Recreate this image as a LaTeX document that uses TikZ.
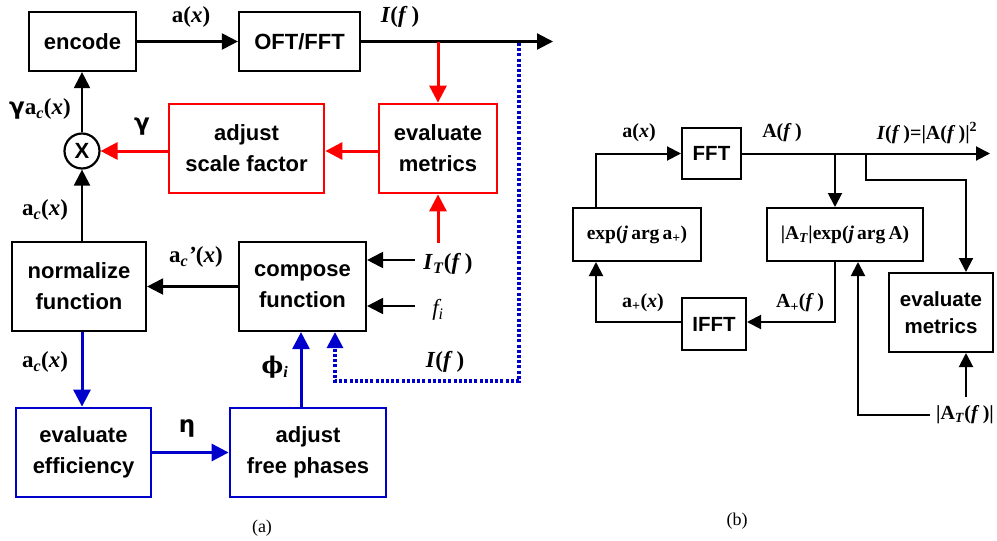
\documentclass[tikz,border=0pt]{standalone}
\usepackage{fontspec}
\setmainfont{Liberation Serif}
\setsansfont{Liberation Sans}
\newfontfamily\grs{DejaVu Sans}
\newfontfamily\grserif{DejaVu Serif}
\usetikzlibrary{arrows.meta}
\definecolor{myred}{RGB}{255,0,0}
\definecolor{myblue}{RGB}{0,0,204}
\newcommand{\bit}[1]{\textit{#1}}
\tikzset{
  blk/.style={draw, line width=2.2pt, inner sep=0pt, align=center,
    font=\fontsize{22}{31}\selectfont\sffamily\bfseries},
  redbox/.style={blk, draw=myred, line width=2.8pt},
  bluebox/.style={blk, draw=myblue, line width=2.8pt},
  blkb/.style={draw, line width=2pt, inner sep=0pt, align=center,
    font=\fontsize{20.5}{27}\selectfont\sffamily\bfseries},
  serbox/.style={draw, line width=2pt, inner sep=0pt, align=center,
    font=\fontsize{19.5}{22}\selectfont\bfseries},
  lab/.style={inner sep=0pt, font=\fontsize{23}{26}\selectfont\bfseries},
  labb/.style={inner sep=0pt, font=\fontsize{20}{23}\selectfont\bfseries},
  con/.style={line width=2.2pt, -{Triangle[length=16pt,width=16pt]}},
  redcon/.style={line width=3pt, draw=myred, -{Triangle[length=17pt,width=17pt]}, myred},
  bluecon/.style={line width=3pt, draw=myblue, -{Triangle[length=17pt,width=17pt]}, myblue},
  dotcon/.style={line width=3.2pt, draw=myblue, dash pattern=on 3pt off 2.2pt, -{Triangle[length=16pt,width=16pt]}, myblue},
  conb/.style={line width=2pt, -{Triangle[length=14pt,width=14pt]}},
}
\begin{document}
\begin{tikzpicture}[x=1pt,y=-1pt]
\useasboundingbox (0,0) rectangle (997,541);
% ---------------- (a) ----------------
\node[blk, minimum width=107pt, minimum height=59pt] (enc) at (82.5,41.5) {encode};
\node[blk, minimum width=121pt, minimum height=59pt] (oft) at (299.5,41.5) {OFT/FFT};
\node[redbox, minimum width=155pt, minimum height=89pt] (asf) at (246.5,148.5) {adjust\\scale factor};
\node[redbox, minimum width=118pt, minimum height=89pt] (em) at (438,148.5) {evaluate\\metrics};
\node[circle, draw, line width=2.2pt, minimum size=35pt, inner sep=0pt,
  font=\fontsize{22}{24}\selectfont\sffamily\bfseries] (mul) at (82,151) {X};
\node[blk, minimum width=134pt, minimum height=89pt] (norm) at (79,286.5) {normalize\\function};
\node[blk, minimum width=127pt, minimum height=89pt] (comp) at (302.5,286.5) {compose\\function};
\node[bluebox, minimum width=135pt, minimum height=89pt] (eff) at (83.5,452.5) {evaluate\\efficiency};
\node[bluebox, minimum width=156pt, minimum height=89pt] (afp) at (308,452.5) {adjust\\free phases};

\coordinate (out) at (553,41.5);
\coordinate (tapR) at (438,41.5);
\coordinate (tapB) at (519,43);
\coordinate (it) at (415,260);
\coordinate (fi) at (415,306);
\coordinate (itr) at (438,243);
\coordinate (phx) at (301,452.5);
\coordinate (d1) at (519,381);
\coordinate (d2) at (335,381);

\draw[con] (enc.east) -- (oft.west);
\draw[con] (oft.east) -- (out);
\draw[dotcon] (tapB) -- (d1) -- (d2) -- (d2 |- comp.south);
\draw[redcon] (tapR) -- (em.north);
\draw[redcon] (em.west |- mul) -- (asf.east |- mul);
\draw[redcon] (asf.west |- mul) -- (mul.east);
\draw[con] (mul.north) -- (mul |- enc.south);
\draw[con] (mul |- norm.north) -- (mul.south);
\draw[con] (comp.west) -- (norm.east);
\draw[con] (it) -- (it -| comp.east);
\draw[con] (fi) -- (fi -| comp.east);
\draw[redcon] (itr) -- (em.south);
\draw[bluecon] (mul |- norm.south) -- (mul |- eff.north);
\draw[bluecon] (eff.east) -- (afp.west);
\draw[bluecon] (phx |- afp.north) -- (phx |- comp.south);

\node[lab] (la1) at (191,17) {a(\bit{x})};
\node[lab] (la2) at (400,17) {\bit{I}(\bit{f}\,)};
\node[lab] (la3) at (40,109) {{\grs γ}a\textsubscript{\bit{c}}(\bit{x})};
\node[lab] (la4) at (142,127) {{\grs γ}};
\node[lab] (la5) at (45,210) {a\textsubscript{\bit{c}}(\bit{x})};
\node[lab] (la6) at (196,257) {a\textsubscript{\bit{c}}\bit{’}(\bit{x})};
\node[lab] (la7) at (448,264) {\bit{I}\textsubscript{\bit{T}}(\bit{f}\,)};
\node[lab, font=\fontsize{23}{26}\selectfont\itshape] (la8) at (438,310) {f\textsubscript{i}};
\node[lab] (la9) at (445,362) {\bit{I}(\bit{f}\,)};
\node[lab] (la10) at (45,362) {a\textsubscript{\bit{c}}(\bit{x})};
\node[lab] (la11) at (275,367) {{\grserif ϕ}\textsubscript{\bit{i}}};
\node[lab] (la12) at (187,428) {{\grs η}};
\node[inner sep=0pt, font=\fontsize{18}{21}\selectfont] (capa) at (262,528) {(a)};

% ---------------- (b) ----------------
\node[blkb, minimum width=59pt, minimum height=51pt] (fft) at (711.5,153.5) {FFT};
\node[serbox, minimum width=128pt, minimum height=53pt] (expb) at (637,234.5) {exp(\bit{j}\,arg\,a\textsubscript{+})};
\node[serbox, minimum width=156pt, minimum height=53pt] (atb) at (845,234.5) {|A\textsubscript{\bit{T}}|exp(\bit{j}\,arg\,A)};
\node[blkb, minimum width=104pt, minimum height=79pt] (em2) at (941,312.5) {evaluate\\metrics};
\node[blkb, minimum width=64pt, minimum height=52pt] (ifft) at (714,324) {IFFT};

\coordinate (outb) at (990,153.5);
\coordinate (t1) at (835,153.5);
\coordinate (t2) at (866,153.5);
\coordinate (t2b) at (966,180);
\coordinate (t3) at (835,322);
\coordinate (t4) at (596,322);
\coordinate (t5) at (858,415);
\coordinate (t6) at (930,415);
\coordinate (t7) at (966,397);

\draw[conb] (fft.east) -- (outb);
\draw[conb] (t1) -- (t1 |- atb.north);
\draw[conb] (t2) |- (t2b) -- (t2b |- em2.north);
\draw[conb] (t1 |- atb.south) -- (t3) -- (t3 -| ifft.east);
\draw[conb] (t4 -| ifft.west) -- (t4) -- (t4 |- expb.south);
\draw[conb] (t4 |- expb.north) |- (fft.west);
\draw[conb] (t6) -- (t5) -- (t5 |- atb.south);
\draw[conb] (t7) -- (t7 |- em2.south);

\node[labb] (lb1) at (639,133) {a(\bit{x})};
\node[labb] (lb2) at (782,133) {A(\bit{f}\,)};
\node[labb] (lb3) at (927,133) {\bit{I}(\bit{f}\,)=|A(\bit{f}\,)|\textsuperscript{2}};
\node[labb] (lb4) at (643,303) {a\textsubscript{+}(\bit{x})};
\node[labb] (lb5) at (800,303) {A\textsubscript{+}(\bit{f}\,)};
\node[labb] (lb6) at (965,415) {|A\textsubscript{\bit{T}}(\bit{f}\,)|};
\node[inner sep=0pt, font=\fontsize{18}{21}\selectfont] (capb) at (737,521) {(b)};
\end{tikzpicture}
\end{document}
